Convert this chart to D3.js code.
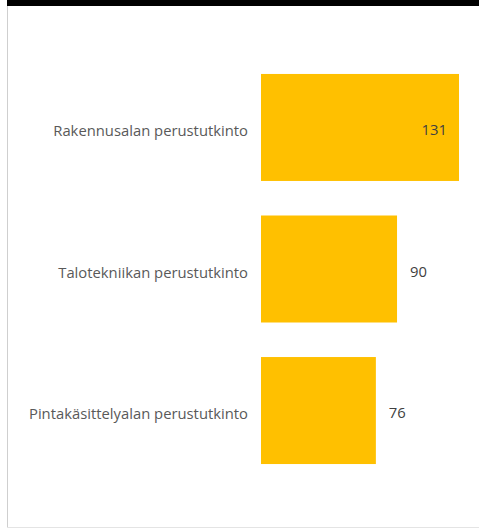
<!DOCTYPE html>
<html>
<head>
<meta charset="utf-8">
<script src="https://cdn.jsdelivr.net/npm/d3@7"></script>
<style>
  body { margin: 0; background: #fff; }
  svg text { font-family: "Open Sans", "Liberation Sans", sans-serif; }
</style>
</head>
<body>
<div id="canvas"></div>
<script>
let categories = ["Rakennusalan perustutkinto", "Talotekniikan perustutkinto", "Pintakäsittelyalan perustutkinto"]
let values = [131, 90, 76]

let svg = {}

window.onload = function () { setup() }

function setup() {
  setupSVGCanvas()
  drawFrame()
  drawBars()
}

function setupSVGCanvas() {
  svg = d3.select("#canvas")
    .append("svg")
    .attr("width", 479)
    .attr("height", 529)
}

function drawFrame() {
  // dark strip on top and thin grey edges
  svg.append("rect")
    .attr("x", 7).attr("y", 0)
    .attr("width", 472).attr("height", 6)
    .attr("fill", "#000")
  svg.append("line")
    .attr("x1", 7.5).attr("x2", 7.5)
    .attr("y1", 6).attr("y2", 528)
    .attr("stroke", "#cfcfcf")
  svg.append("line")
    .attr("x1", 7).attr("x2", 479)
    .attr("y1", 527.5).attr("y2", 527.5)
    .attr("stroke", "#e4e4e4")
}

function drawBars() {
  let x = d3.scaleLinear()
    .domain([0, 131])
    .range([261, 459])

  let y = d3.scaleBand()
    .domain(categories)
    .range([31.5, 506.5])
    .paddingInner(0.244)
    .paddingOuter(0.3)

  let data = categories.map((c, i) => ({ name: c, value: values[i] }))

  svg.selectAll("rect.bar")
    .data(data)
    .join("rect")
    .attr("class", "bar")
    .attr("x", x(0))
    .attr("y", d => y(d.name))
    .attr("width", d => x(d.value) - x(0))
    .attr("height", y.bandwidth())
    .attr("fill", "#ffc000")

  svg.selectAll("text.cat")
    .data(data)
    .join("text")
    .attr("class", "cat")
    .attr("x", 248)
    .attr("y", d => y(d.name) + y.bandwidth() / 2 + 8.5)
    .attr("text-anchor", "end")
    .attr("font-size", 14.8)
    .attr("fill", "#595959")
    .text(d => d.name)

  svg.selectAll("text.val")
    .data(data)
    .join("text")
    .attr("class", "val")
    .attr("x", d => d.value > 100 ? x(d.value) - 12 : x(d.value) + 13)
    .attr("y", d => y(d.name) + y.bandwidth() / 2 + 7.5)
    .attr("text-anchor", d => d.value > 100 ? "end" : "start")
    .attr("font-size", 14.8)
    .attr("fill", "#404040")
    .text(d => d.value)
}
</script>
</body>
</html>
